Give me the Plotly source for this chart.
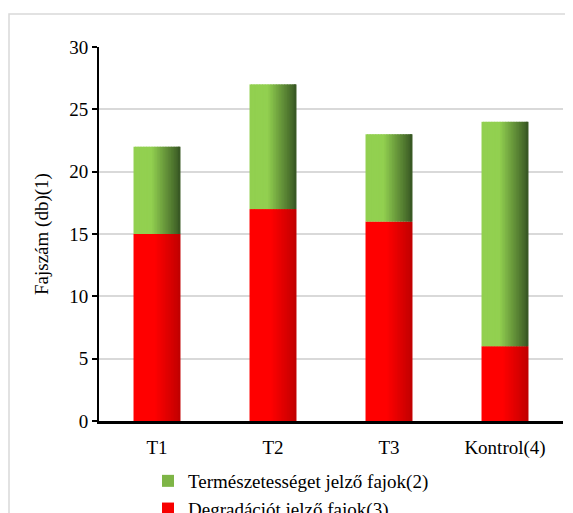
import plotly.graph_objects as go

categories = ["T1", "T2", "T3", "Kontrol(4)"]
degradacio = [15, 17, 16, 6]          # Degradációt jelző fajok(3)
termeszetesseg = [7, 10, 7, 18]       # Természetességet jelző fajok(2)
y_ticks = [0, 5, 10, 15, 20, 25, 30]
y_title = "Fajszám (db)(1)"

name_green = "Természetességet jelző fajok(2)"
name_red = "Degradációt jelző fajok(3)"

FONT = "Liberation Serif"
FS = 19
BAR_W = 0.405
N = 30


def lerp(c1, c2, t):
    return "rgb({},{},{})".format(*[round(a + (b - a) * t) for a, b in zip(c1, c2)])


def grad(light, dark, t, start=0.38):
    if t <= start:
        return lerp(light, light, 0)
    return lerp(light, dark, (t - start) / (1 - start))


GREEN_L, GREEN_D = (146, 208, 80), (55, 86, 35)
RED_L, RED_D = (255, 0, 0), (192, 0, 0)

fig = go.Figure()
step = BAR_W / N
for i in range(N):
    t = (i + 0.5) / N
    off = -BAR_W / 2 + i * step
    w = step * 1.6 if i < N - 1 else step
    fig.add_trace(go.Bar(
        x=categories, y=degradacio, base=[0] * len(categories),
        offset=off, width=w,
        marker=dict(color=grad(RED_L, RED_D, t, 0.45), line=dict(width=0)),
        name=name_red, legendgroup="red", showlegend=(i == N // 2),
        legendrank=2, hoverinfo="skip"))
for i in range(N):
    t = (i + 0.5) / N
    off = -BAR_W / 2 + i * step
    w = step * 1.6 if i < N - 1 else step
    fig.add_trace(go.Bar(
        x=categories, y=termeszetesseg, base=degradacio,
        offset=off, width=w,
        marker=dict(color=grad(GREEN_L, GREEN_D, t), line=dict(width=0)),
        name=name_green, legendgroup="green", showlegend=(i == N // 2),
        legendrank=1, hoverinfo="skip"))

# page is offset by the browser's 8px body margin
W, H = 573, 513
L, R, T, B = 91, 18, 39, 100
pw, ph = W - L - R, H - T - B

fig.update_layout(
    width=W, height=H,
    margin=dict(l=L, r=R, t=T, b=B, pad=0, autoexpand=False),
    barmode="overlay",
    paper_bgcolor="white", plot_bgcolor="white",
    font=dict(family=FONT, size=FS, color="black"),
    showlegend=True,
    legend=dict(
        orientation="v", xref="container", yref="container",
        x=140 / W, xanchor="left",
        y=1 - 454 / H, yanchor="top",
        font=dict(family=FONT, size=FS, color="black"),
        bgcolor="rgba(0,0,0,0)", tracegroupgap=0,
        traceorder="normal", itemsizing="constant"),
    xaxis=dict(
        type="category", categoryorder="array", categoryarray=categories,
        showgrid=False, showline=True, linecolor="black", linewidth=2.5,
        ticks="", ticklabelstandoff=7, tickfont=dict(family=FONT, size=FS),
        zeroline=False),
    yaxis=dict(
        range=[0, 30], tickvals=y_ticks, showgrid=True,
        gridcolor="#d9d9d9", gridwidth=1.5,
        showline=True, linecolor="black", linewidth=2,
        ticks="outside", ticklen=5, tickwidth=1.5, tickcolor="black",
        tickfont=dict(family=FONT, size=FS),
        zeroline=False),
    annotations=[
        dict(text=y_title, textangle=-90, xref="paper", yref="paper",
             x=(34 - L) / pw, y=0.5, xanchor="center", yanchor="middle",
             showarrow=False, font=dict(family=FONT, size=FS, color="black")),
    ],
    shapes=[
        dict(type="rect", xref="paper", yref="paper",
             x0=(1 - L) / pw, x1=(W + 20 - L) / pw,
             y0=-(H + 20 - (T + ph)) / ph, y1=1 + (T - 6) / ph,
             line=dict(color="#d9d9d9", width=1.5), fillcolor="rgba(0,0,0,0)",
             layer="below"),
    ],
)

fig.write_html("out.html")
